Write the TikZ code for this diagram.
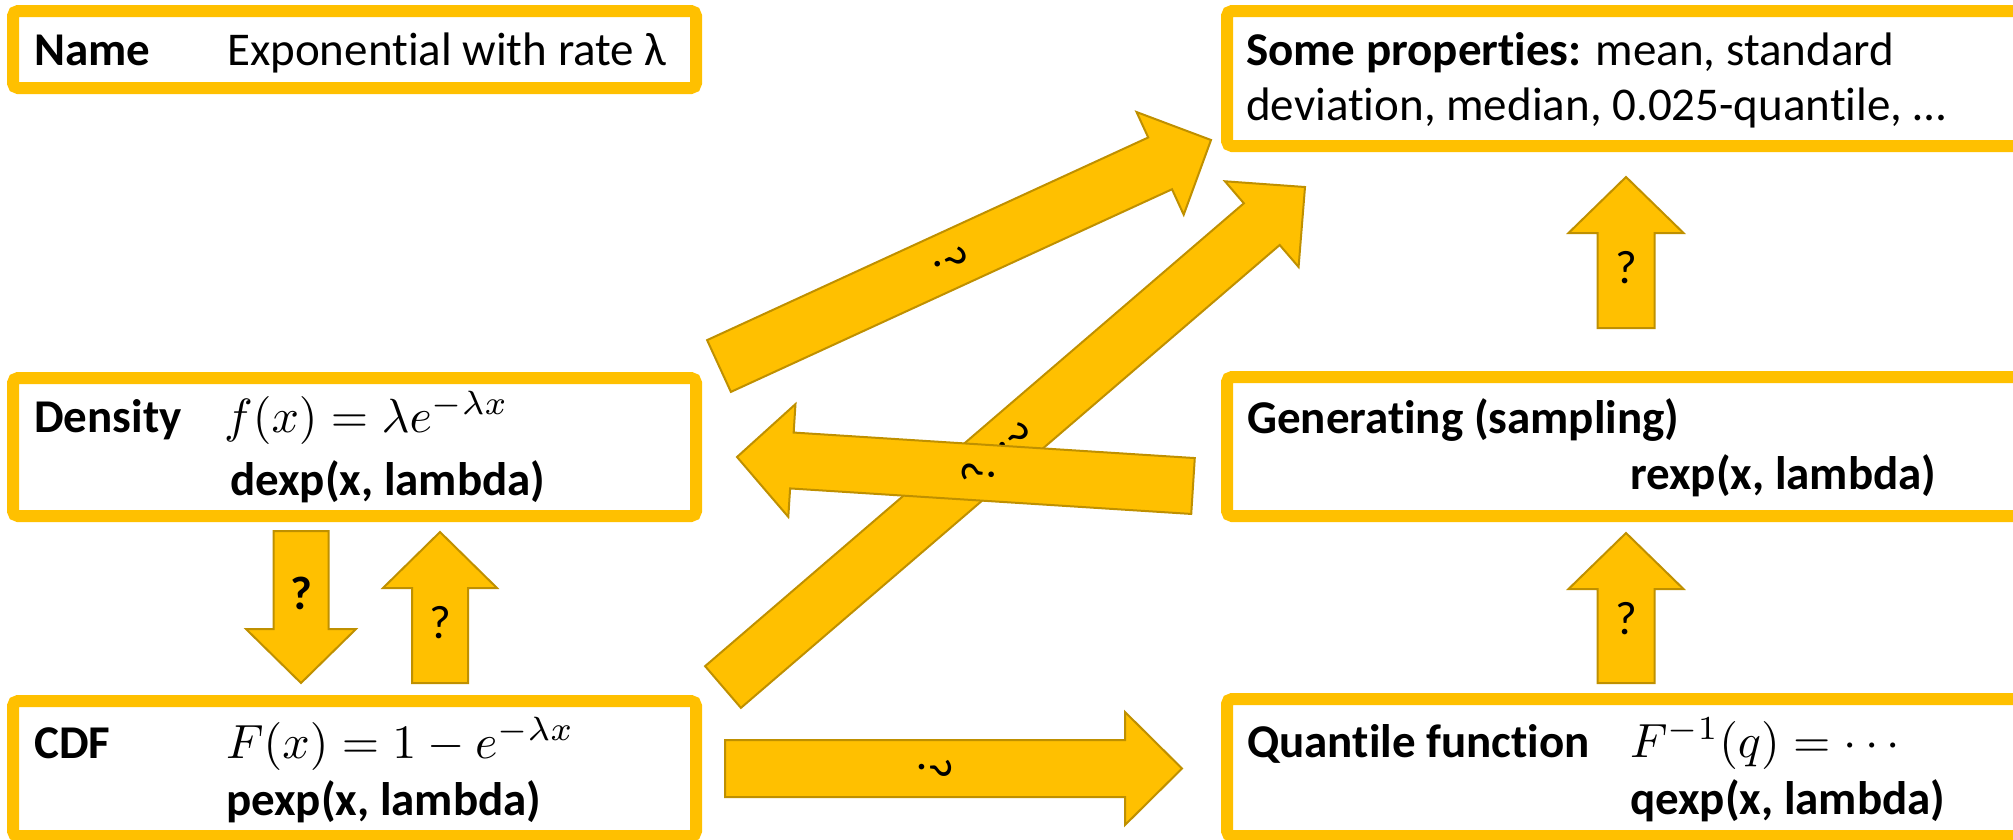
\documentclass[tikz,border=0pt]{standalone}
\usepackage{graphicx}
\usepackage{fontspec}
\setmainfont{Carlito}[Ligatures=NoCommon]
\usetikzlibrary{calc}
\definecolor{gold}{HTML}{FFC000}
\definecolor{golddark}{HTML}{BF9000}
\newcommand\bigmath[1]{\scalebox{4.8}{\fontsize{10}{12}\selectfont$#1$}}
\newcommand\blockarrow[6][]{%
  \coordinate (#2-b) at ($(#3)!#6!(#2)$);
  \draw[barrow,#1] ($(#2)!#4!90:(#3)$) -- ($(#2-b)!#4!90:(#3)$) -- ($(#2-b)!#5!90:(#3)$) -- (#3)
    -- ($(#2-b)!#5!-90:(#3)$) -- ($(#2-b)!#4!-90:(#3)$) -- ($(#2)!#4!-90:(#3)$) -- cycle;
}
\begin{document}
\begin{tikzpicture}[x=1pt,y=-1pt,
  box/.style={draw=gold, line width=12pt, rounded corners=5pt, fill=white, inner sep=0pt},
  txt/.style={anchor=base west, inner sep=0pt, font=\fontsize{47}{56}\selectfont},
  btxt/.style={txt, font=\fontsize{47}{56}\selectfont\bfseries},
  barrow/.style={fill=gold, draw=golddark, line width=2pt, line join=miter},
  qlabel/.style={inner sep=0pt, font=\fontsize{47}{56}\selectfont},
  bqlabel/.style={qlabel, font=\fontsize{47}{56}\selectfont\bfseries}]
\useasboundingbox (0,0) rectangle (2013,839);
\clip (0,0) rectangle (2013,839);

% boxes
\node[box, minimum width=683pt, minimum height=77pt] (name) at (354.5,49.5) {};
\node[box, minimum width=803pt, minimum height=135pt] (props) at (1628.5,78.5) {};
\node[box, minimum width=683pt, minimum height=138pt] (dens) at (354.5,447) {};
\node[box, minimum width=803pt, minimum height=139pt] (gen) at (1628.5,446.5) {};
\node[box, minimum width=683pt, minimum height=135pt] (cdf) at (354.5,768.5) {};
\node[box, minimum width=803pt, minimum height=137pt] (quant) at (1628.5,767.5) {};

% texts
\node[btxt] (nameL) at (34,65) {Name};
\node[txt] (nameR) at (227,65) {Exponential with rate λ};
\node[txt] (p1) at (1246,65) {\textbf{Some properties:} mean, standard};
\node[txt] (p2) at (1246,120) {deviation, median, 0.025-quantile, …};
\node[btxt] (dL) at (34,432) {Density};
\node[txt] (dM) at (224,432) {\bigmath{f(x)=\lambda e^{-\lambda x}}};
\node[btxt] (dR) at (230,495) {dexp(x, lambda)};
\node[btxt] (cL) at (34,758) {CDF};
\node[txt] (cM) at (226,758) {\bigmath{F(x)=1-e^{-\lambda x}}};
\node[btxt] (cR) at (226,815) {pexp(x, lambda)};
\node[btxt] (gL) at (1247,433) {Generating (sampling)};
\node[btxt] (gR) at (1630,489) {rexp(x, lambda)};
\node[btxt] (qL) at (1247,757) {Quantile function};
\node[txt] (qM) at (1630,757) {\bigmath{F^{-1}(q)=\cdots}};
\node[btxt] (qR) at (1630,814) {qexp(x, lambda)};

% arrow end coordinates
\coordinate (a1t) at (301,531);   \coordinate (a1h) at (301,683);
\coordinate (a2t) at (440,683);   \coordinate (a2h) at (440,532);
\coordinate (a3t) at (719,366);   \coordinate (a3h) at (1211,140);
\coordinate (a4t) at (723,687);   \coordinate (a4h) at (1305,187);
\coordinate (a5t) at (1193,486);  \coordinate (a5h) at (737,457);
\coordinate (a6t) at (725,768.5); \coordinate (a6h) at (1182,768.5);
\coordinate (a7t) at (1626,328);  \coordinate (a7h) at (1626,177);
\coordinate (a8t) at (1626,683);  \coordinate (a8h) at (1626,533);

% arrows
\blockarrow{a1t}{a1h}{27.5pt}{55pt}{54pt}
\path (a1t) -- node[bqlabel, pos=0.41] (l1) {?} (a1h);
\blockarrow{a2t}{a2h}{28pt}{57pt}{56pt}
\path (a2t) -- node[qlabel, pos=0.40] (l2) {?} (a2h);
\blockarrow{a3t}{a3h}{28.5pt}{56.5pt}{56pt}
\path (a3t) -- node[qlabel, pos=0.47, rotate=-65.3] (l3) {?} (a3h);
\blockarrow{a4t}{a4h}{27.5pt}{56.5pt}{57pt}
\path (a4t) -- node[qlabel, pos=0.50, rotate=-49.3] (l4) {?} (a4h);
\blockarrow{a5t}{a5h}{28pt}{56.5pt}{55pt}
\path (a5t) -- node[qlabel, pos=0.47, rotate=86.4] (l5) {?} (a5h);
\blockarrow{a6t}{a6h}{28.5pt}{56.5pt}{57pt}
\path (a6t) -- node[qlabel, pos=0.46, rotate=-90] (l6) {?} (a6h);
\blockarrow{a7t}{a7h}{28.5pt}{57.5pt}{56pt}
\path (a7t) -- node[qlabel, pos=0.40] (l7) {?} (a7h);
\blockarrow{a8t}{a8h}{28.5pt}{57.5pt}{56pt}
\path (a8t) -- node[qlabel, pos=0.43] (l8) {?} (a8h);
\end{tikzpicture}
\end{document}
